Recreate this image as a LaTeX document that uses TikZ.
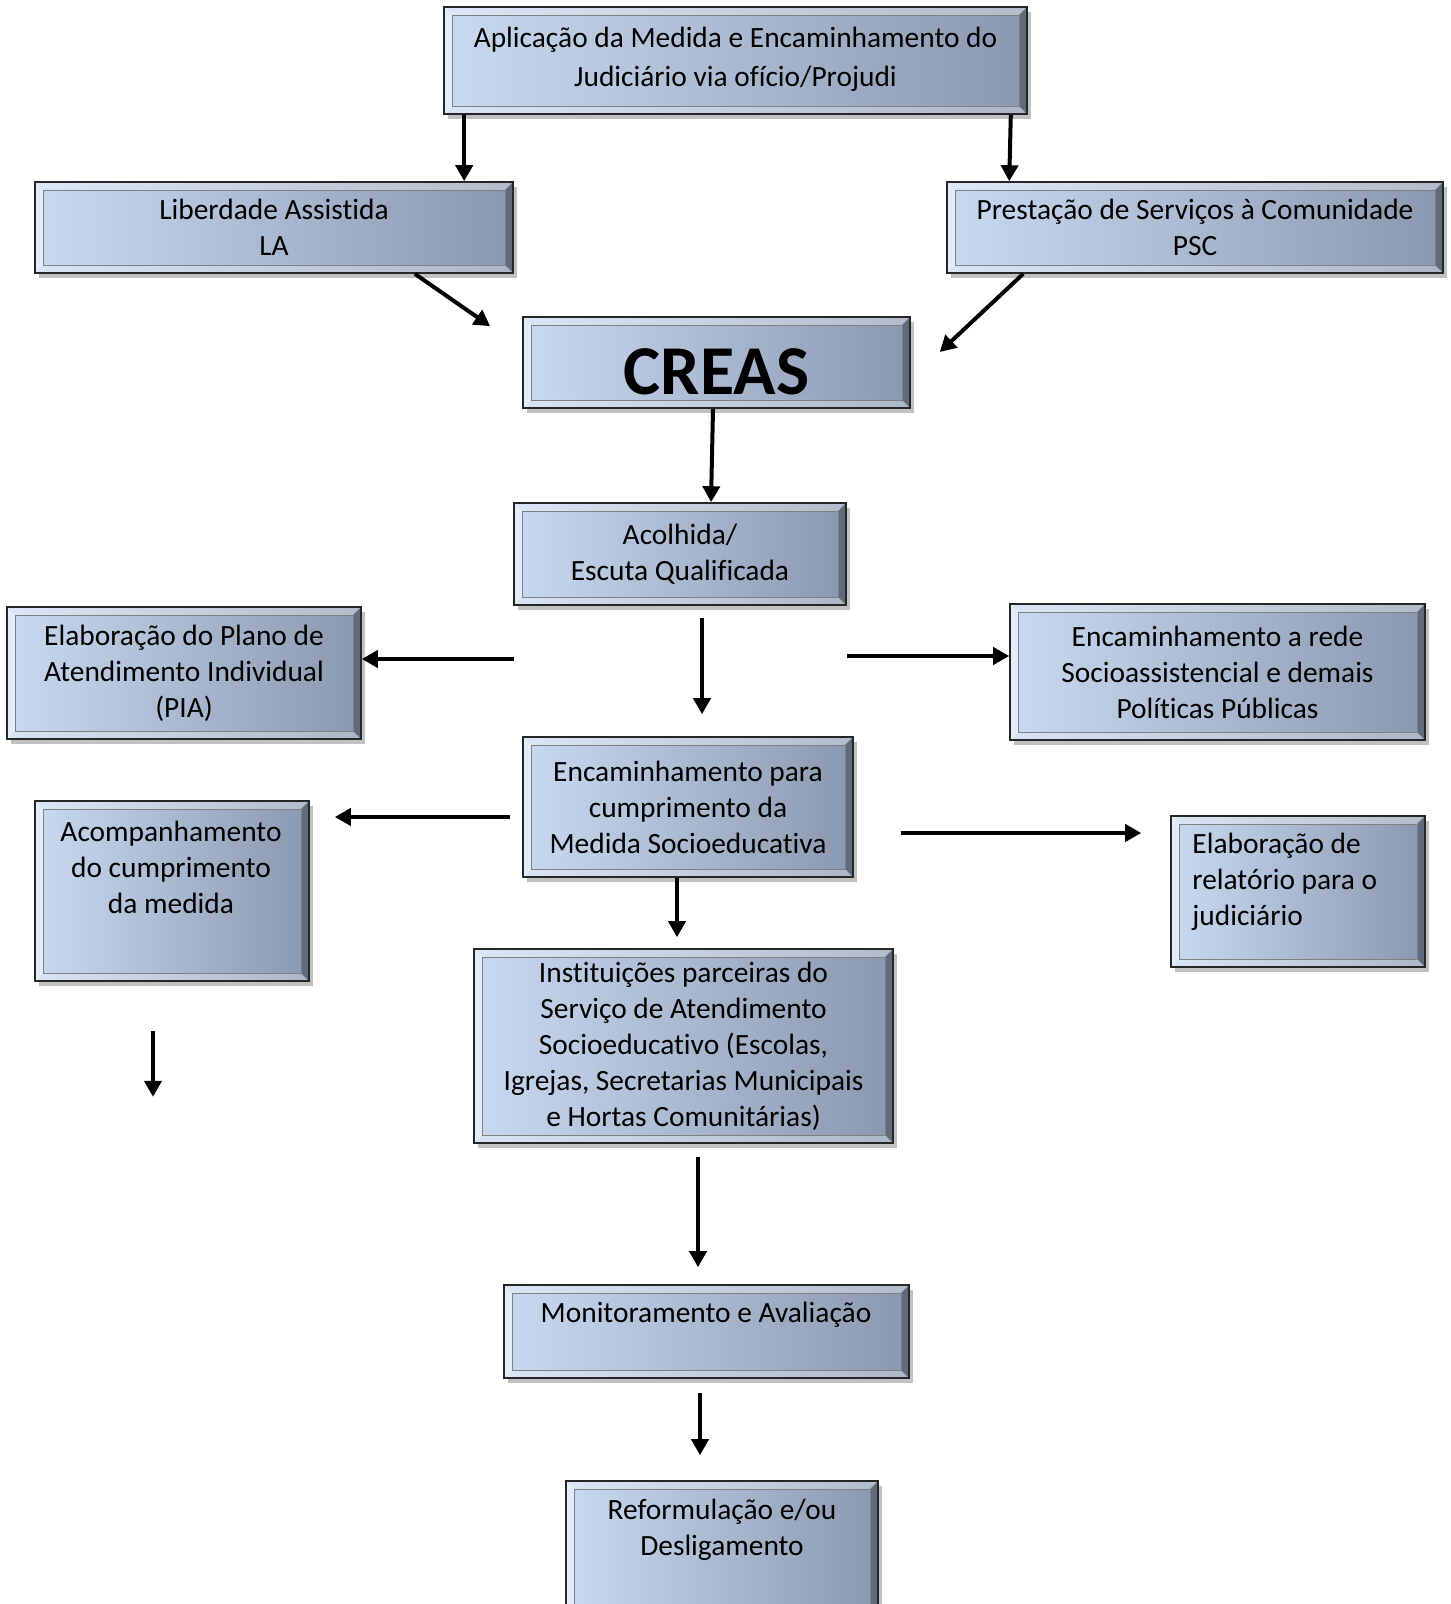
\documentclass[tikz,border=0pt]{standalone}
\usepackage{fontspec}
\setmainfont[Ligatures=NoCommon]{Carlito}
\usetikzlibrary{arrows.meta,positioning,calc,shadows}
\definecolor{boxleft}{RGB}{200,218,242}
\definecolor{boxright}{RGB}{138,152,175}
\newcommand{\boxfont}{\fontsize{14.7pt}{18pt}\selectfont}
\tikzset{
  bevel/.style={path picture={
    \coordinate (bnw) at (path picture bounding box.north west);
    \coordinate (bne) at (path picture bounding box.north east);
    \coordinate (bsw) at (path picture bounding box.south west);
    \coordinate (bse) at (path picture bounding box.south east);
    \fill[white,opacity=0.35] (bnw) -- (bne) -- ([shift={(-4pt,-4pt)}]bne) -- ([shift={(4pt,-4pt)}]bnw) -- cycle;
    \fill[white,opacity=0.5] (bnw) -- (bsw) -- ([shift={(4pt,4pt)}]bsw) -- ([shift={(4pt,-4pt)}]bnw) -- cycle;
    \fill[white,opacity=0.3] (bsw) -- (bse) -- ([shift={(-4pt,4pt)}]bse) -- ([shift={(4pt,4pt)}]bsw) -- cycle;
    \fill[black,opacity=0.3] (bne) -- (bse) -- ([shift={(-4pt,4pt)}]bse) -- ([shift={(-4pt,-4pt)}]bne) -- cycle;
    \draw[black!50,line width=0.4pt] ([shift={(4pt,-4pt)}]bnw) rectangle ([shift={(-4pt,4pt)}]bse);
  }},
}
\begin{document}
\begin{tikzpicture}[
  x=0.5pt, y=-0.5pt,
  panel/.style={draw=black!85, line width=0.8pt, left color=boxleft, right color=boxright,
    drop shadow={shadow xshift=2pt, shadow yshift=-2.5pt, opacity=0.35, fill=black!70},
    bevel, font=\boxfont, align=center, inner sep=0pt},
  txt/.style={font=\boxfont, align=center, inner sep=0pt},
  arr/.style={-{Triangle[length=8pt,width=8.5pt]}, line width=2pt}
]
\useasboundingbox (0,0) rectangle (1450,1604);

% boxes
\node[panel, minimum width=291.5pt, minimum height=53.5pt] (top) at (735.5,60.5) {\raisebox{1.5pt}[\height][\depth]{Aplicação da Medida e Encaminhamento do}\\Judiciário via ofício/Projudi};
\node[panel, minimum width=239pt, minimum height=45.5pt] (la) at (274,227.5) {Liberdade Assistida\\LA};
\node[panel, minimum width=248pt, minimum height=45.5pt] (psc) at (1195,227.5) {Prestação de Serviços à Comunidade\\PSC};
\node[panel, minimum width=193.5pt, minimum height=45.5pt, font=\fontsize{35pt}{40pt}\selectfont\bfseries] (creas) at (716.5,362.5) {\raisebox{-4.5pt}[\height][\depth]{CREAS}};
\node[panel, minimum width=166pt, minimum height=51pt] (acol) at (680,554) {Acolhida/\\Escuta Qualificada};
\node[panel, minimum width=177pt, minimum height=66pt] (pia) at (184,673) {Elaboração do Plano de\\Atendimento Individual\\(PIA)};
\node[panel, minimum width=207.5pt, minimum height=68pt] (rede) at (1217.5,672) {Encaminhamento a rede\\Socioassistencial e demais\\Políticas Públicas};
\node[panel, minimum width=165pt, minimum height=70pt] (enc) at (688,807) {Encaminhamento para\\cumprimento da\\Medida Socioeducativa};
\node[panel, minimum width=137pt, minimum height=90pt] (acomp) at (172,891) {};
\node[txt] (acomptxt) at (171,867) {Acompanhamento\\do cumprimento\\da medida};
\node[panel, minimum width=127pt, minimum height=75.5pt] (relat) at (1298,891.5) {};
\node[txt, align=left, anchor=west] (relattxt) at (1192,882) {Elaboração de\\relatório para o\\judiciário};
\node[panel, minimum width=209.5pt, minimum height=97pt] (inst) at (683.5,1046) {Instituições parceiras do\\Serviço de Atendimento\\Socioeducativo (Escolas,\\Igrejas, Secretarias Municipais\\e Hortas Comunitárias)};
\node[panel, minimum width=202.5pt, minimum height=46.5pt] (monit) at (706.5,1331.5) {};
\node[txt] (monittxt) at (706,1315) {Monitoramento e Avaliação};
\node[panel, minimum width=156pt, minimum height=75pt] (reform) at (722,1556) {};
\node[txt] (reformtxt) at (722,1530) {Reformulação e/ou\\Desligamento};

% connectors
\draw[arr] ($(top.south west)+(21,0)$) -- ($(la.north west)+(430,0)$);
\draw[arr] ($(top.south east)+(-17,0)$) -- ($(psc.north west)+(63,0)$);
\draw[arr] ($(la.south east)+(-99,0)$) -- ($(creas.north west)+(-32,10)$);
\draw[arr] ($(psc.south west)+(77,0)$) -- ($(creas.east)+(29,-10.5)$);
\draw[arr] ($(creas.south)+(-3.5,0)$) -- ($(acol.north)+(31,0)$);
\draw[arr] ($(acol.south)+(22,12)$) -- ($(enc.north)+(14,-22)$);
\draw[arr] ($(acol.west)+(1,105)$) -- ($(pia.east)+(0,-14)$);
\draw[arr] ($(acol.east)+(0,102)$) -- ($(rede.west)+(0,-16)$);
\draw[arr] ($(enc.west)+(-12,10)$) -- ($(acomp.east)+(25,-74)$);
\draw[arr] ($(enc.east)+(47,26)$) -- ($(relat.west)+(-29,-58.5)$);
\draw[arr] ($(enc.south)+(-11,0)$) -- ($(inst.north)+(-6.5,-11)$);
\coordinate (acompend) at ($(acomp.south)+(-19,115)$);
\draw[arr] ($(acomp.south)+(-19,49)$) -- (acompend);
\draw[arr] ($(inst.south)+(14.5,13)$) -- ($(monit.north)+(-8.5,-17)$);
\draw[arr] ($(monit.south)+(-6.5,14)$) -- ($(reform.north)+(-22,-25)$);
\end{tikzpicture}
\end{document}
